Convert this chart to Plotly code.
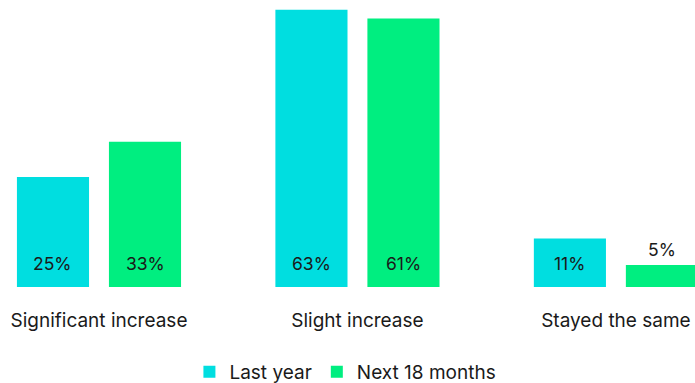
import plotly.graph_objects as go

categories = ["Significant increase", "Slight increase", "Stayed the same"]
series_names = ["Last year", "Next 18 months"]
last_year = [25, 63, 11]
next_18 = [33, 61, 5]
colors = ["#00DEE0", "#00EE80"]

FONT = "Inter, Open Sans, sans-serif"
x_idx = list(range(len(categories)))
bw = 0.279
offsets = [-0.178 - bw / 2, 0.178 - bw / 2]

fig = go.Figure()
for vals, name, col, off in zip([last_year, next_18], series_names, colors, offsets):
    fig.add_trace(go.Bar(
        x=x_idx, y=vals, name=name, marker=dict(color=col, line=dict(width=0)),
        width=bw, offset=off, hoverinfo="skip",
    ))

# value labels
for vals, off in zip([last_year, next_18], offsets):
    for i, v in enumerate(vals):
        cx = i + off + bw / 2
        if v >= 8:
            fig.add_annotation(x=cx, y=0, text=f"{v}%", showarrow=False,
                               yanchor="middle", yshift=24,
                               font=dict(family=FONT, size=17.5, color="#1a1a1a"))
        else:
            fig.add_annotation(x=cx, y=v, text=f"{v}%", showarrow=False,
                               yanchor="middle", yshift=15,
                               font=dict(family=FONT, size=17.5, color="#1a1a1a"))

fig.update_layout(
    width=695, height=383,
    margin=dict(l=0, r=0, t=0, b=96, autoexpand=False),
    plot_bgcolor="white", paper_bgcolor="white",
    barmode="overlay",
    showlegend=True,
    legend=dict(orientation="h", x=0.497, xanchor="center",
                yref="container", y=0.029, yanchor="middle",
                font=dict(family=FONT, size=19, color="#1a1a1a"),
                itemwidth=30, traceorder="normal"),
    xaxis=dict(tickmode="array", tickvals=x_idx, ticktext=categories,
               range=[-0.383, 2.306], showgrid=False, zeroline=False, showline=False,
               tickfont=dict(family=FONT, size=19, color="#1a1a1a"), ticks="",
               ticklabelstandoff=20),
    yaxis=dict(range=[0, 65.2], visible=False, showgrid=False, zeroline=False),
    font=dict(family=FONT),
)

fig.write_html("out.html", config={"displayModeBar": False},
               post_script="document.body.style.margin='0';")
